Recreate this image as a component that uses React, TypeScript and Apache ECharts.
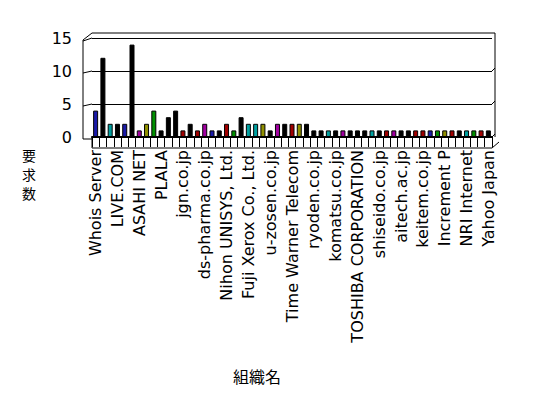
import React, { useEffect, useRef } from "react";
import * as echarts from "echarts";

// Labels shown on the x axis (every third organisation)
const shownLabels = [
  "Whois Server", "LIVE.COM", "ASAHI NET", "PLALA", "jgn.co.jp", "ds-pharma.co.jp",
  "Nihon UNISYS, Ltd.", "Fuji Xerox Co., Ltd.", "u-zosen.co.jp", "Time Warner Telecom",
  "ryoden.co.jp", "komatsu.co.jp", "TOSHIBA CORPORATION", "shiseido.co.jp",
  "aitech.ac.jp", "keitem.co.jp", "Increment P", "NRI Internet", "Yahoo Japan",
];

// Request counts per organisation (55 organisations)
const counts = [
  4, 12, 2, 2, 2, 14, 1, 2, 4, 1,
  3, 4, 1, 2, 1, 2, 1, 1, 2, 1,
  3, 2, 2, 2, 1, 2, 2, 2, 2, 2,
  1, 1, 1, 1, 1, 1, 1, 1, 1, 1,
  1, 1, 1, 1, 1, 1, 1, 1, 1, 1,
  1, 1, 1, 1, 1,
];

// Colour key per bar
const barColorKeys = [
  "navy", "black", "teal", "black", "navy", "black", "purple", "olive", "green", "black",
  "black", "black", "maroon", "black", "maroon", "purple", "navy", "black", "maroon", "green",
  "black", "teal", "teal", "olive", "black", "purple", "black", "maroon", "olive", "black",
  "black", "black", "teal", "black", "purple", "black", "black", "black", "teal", "black",
  "maroon", "purple", "black", "black", "maroon", "maroon", "navy", "green", "olive", "maroon",
  "black", "teal", "green", "maroon", "black",
];

const yTicks = [0, 5, 10, 15];
const yAxisTitleChars = ["要", "求", "数"];

const palette: Record<string, string> = {
  black: "#000000",
  navy: "#1a1aa8",
  teal: "#00a0a0",
  olive: "#909000",
  purple: "#a000a0",
  green: "#009000",
  maroon: "#a00000",
};

const categories = counts.map((_, i) => (i % 3 === 0 ? shownLabels[i / 3] ?? "" : ""));

export default function App() {
  const ref = useRef<HTMLDivElement>(null);
  useEffect(() => {
    if (!ref.current) return;
    const chart = echarts.init(ref.current, null, { renderer: "svg" });
    const line = (x1: number, y1: number, x2: number, y2: number, w = 1) => ({
      type: "line",
      shape: { x1, y1, x2, y2 },
      style: { stroke: "#000", lineWidth: w },
      silent: true,
    });
    chart.setOption({
      animation: false,
      backgroundColor: "#fff",
      grid: { left: 92, right: 56, top: 38, bottom: 261, containLabel: false },
      xAxis: {
        type: "category",
        data: categories,
        boundaryGap: true,
        axisLine: { show: true, lineStyle: { color: "#000", width: 2 } },
        axisTick: { show: true, interval: 0, length: 10, lineStyle: { color: "#000", width: 1 } },
        axisLabel: {
          interval: 0,
          rotate: 90,
          margin: 13,
          color: "#000",
          fontSize: 16,
          fontFamily: "DejaVu Sans",
        },
        splitLine: { show: false },
      },
      yAxis: {
        type: "value",
        min: yTicks[0],
        max: yTicks[yTicks.length - 1],
        interval: 5,
        axisLine: { show: false },
        axisTick: { show: false },
        axisLabel: { color: "#000", fontSize: 16, fontFamily: "DejaVu Sans", margin: 20 },
        splitLine: { show: true, lineStyle: { color: "#000", width: 1 } },
      },
      series: [
        {
          type: "bar",
          barWidth: 5,
          data: counts.map((v, i) => ({
            value: v,
            itemStyle: {
              color: palette[barColorKeys[i]],
              borderColor: "#000",
              borderWidth: 1,
            },
          })),
        },
      ],
      graphic: [
        line(92, 33, 495, 33),
        line(495, 33, 495, 137),
        line(492, 71, 495, 68),
        line(492, 104, 495, 101),
        line(492, 137, 495, 134),
        line(83, 40, 92, 33),
        line(83, 40, 83, 139),
        line(83, 41, 92, 38),
        line(83, 73, 92, 71),
        line(83, 106, 92, 104),
        line(83, 139, 92, 139),
        line(92, 148, 492, 148),
        line(92, 137, 92, 148),
        line(492, 148, 499, 142),
        ...yAxisTitleChars.map((ch, i) => ({
          type: "text",
          x: 29,
          y: 155 + i * 19,
          style: {
            text: ch,
            fontSize: 14,
            lineHeight: 14,
            fontFamily: "Noto Sans CJK JP",
            fill: "#000",
            align: "center",
            verticalAlign: "middle",
          },
        })),
        {
          type: "text",
          x: 257,
          y: 376,
          style: {
            text: "組織名",
            fontSize: 16,
            fontFamily: "Noto Sans CJK JP",
            fill: "#000",
            align: "center",
            verticalAlign: "middle",
          },
        },
      ],
    });
    return () => chart.dispose();
  }, []);
  return (
    <div
      ref={ref}
      style={{ position: "absolute", left: 0, top: 0, width: 548, height: 398 }}
    />
  );
}
